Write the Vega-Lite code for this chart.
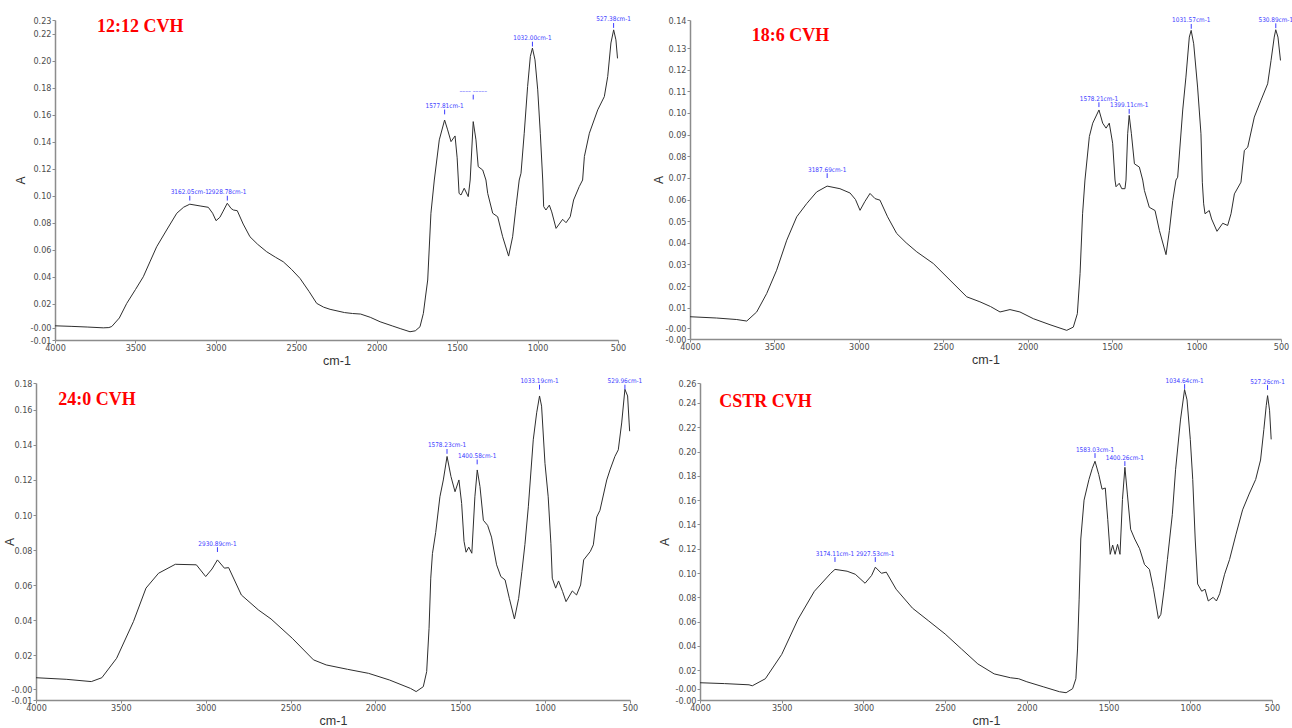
{
"$schema": "https://vega.github.io/schema/vega-lite/v6.json",
"background": "white",
"padding": 0,
"autosize": {"type": "none"},
"width": 1292,
"height": 728,
"config": {
 "view": {"stroke": null},
 "axis": {"grid": false, "domainColor": "#8c8c8c", "domainWidth": 1.5, "tickColor": "#8c8c8c", "tickSize": 3, "tickWidth": 1, "labelColor": "#4d4d4d", "labelFont": "Liberation Sans Narrow, DejaVu Sans Condensed, Liberation Sans, sans-serif", "labelFontSize": 9, "labelPadding": 1, "titleFont": "Liberation Sans, Arial, sans-serif", "titleFontWeight": "normal", "titleColor": "#333333", "titleFontSize": 12, "labelOverlap": false, "labelFlush": false, "titlePadding": 0},
 "axisX": {"labelPadding": 0, "titleFontSize": 12.5, "titlePadding": 2}
},
"resolve": {"scale": {"x": "independent", "y": "independent"}, "axis": {"x": "independent", "y": "independent"}},
"datasets": {
 "spec": [
{"p":"A","wn":4000,"a":0.0037},{"p":"A","wn":3900,"a":0.0033},{"p":"A","wn":3800,"a":0.0028},{"p":"A","wn":3700,"a":0.0022},{"p":"A","wn":3665,"a":0.0024},{"p":"A","wn":3647,"a":0.0032},{"p":"A","wn":3600,"a":0.0095},{"p":"A","wn":3554,"a":0.0203},{"p":"A","wn":3500,"a":0.0305},{"p":"A","wn":3451,"a":0.04},{"p":"A","wn":3410,"a":0.051},{"p":"A","wn":3368,"a":0.0622},{"p":"A","wn":3306,"a":0.0746},{"p":"A","wn":3243,"a":0.087},{"p":"A","wn":3200,"a":0.0915},{"p":"A","wn":3162,"a":0.0937},{"p":"A","wn":3098,"a":0.0924},{"p":"A","wn":3047,"a":0.0914},{"p":"A","wn":3020,"a":0.087},{"p":"A","wn":2999,"a":0.0815},{"p":"A","wn":2975,"a":0.084},{"p":"A","wn":2957,"a":0.088},{"p":"A","wn":2929,"a":0.0944},{"p":"A","wn":2905,"a":0.0905},{"p":"A","wn":2891,"a":0.0894},{"p":"A","wn":2867,"a":0.0889},{"p":"A","wn":2830,"a":0.079},{"p":"A","wn":2788,"a":0.0696},{"p":"A","wn":2740,"a":0.064},{"p":"A","wn":2684,"a":0.0585},{"p":"A","wn":2630,"a":0.0545},{"p":"A","wn":2581,"a":0.0511},{"p":"A","wn":2530,"a":0.0455},{"p":"A","wn":2477,"a":0.0388},{"p":"A","wn":2420,"a":0.029},{"p":"A","wn":2373,"a":0.0203},{"p":"A","wn":2330,"a":0.0175},{"p":"A","wn":2290,"a":0.0159},{"p":"A","wn":2200,"a":0.0135},{"p":"A","wn":2150,"a":0.0128},{"p":"A","wn":2100,"a":0.0124},{"p":"A","wn":2040,"a":0.01},{"p":"A","wn":1979,"a":0.0067},{"p":"A","wn":1900,"a":0.0035},{"p":"A","wn":1850,"a":0.0015},{"p":"A","wn":1793,"a":-0.0007},{"p":"A","wn":1760,"a":0.0},{"p":"A","wn":1731,"a":0.003},{"p":"A","wn":1710,"a":0.0129},{"p":"A","wn":1697,"a":0.025},{"p":"A","wn":1683,"a":0.0376},{"p":"A","wn":1663,"a":0.087},{"p":"A","wn":1642,"a":0.1116},{"p":"A","wn":1611,"a":0.1413},{"p":"A","wn":1578,"a":0.156},{"p":"A","wn":1559,"a":0.1487},{"p":"A","wn":1538,"a":0.14},{"p":"A","wn":1513,"a":0.1442},{"p":"A","wn":1500,"a":0.128},{"p":"A","wn":1488,"a":0.1017},{"p":"A","wn":1476,"a":0.1005},{"p":"A","wn":1456,"a":0.1055},{"p":"A","wn":1431,"a":0.0993},{"p":"A","wn":1419,"a":0.1116},{"p":"A","wn":1400,"a":0.1548},{"p":"A","wn":1383,"a":0.1413},{"p":"A","wn":1369,"a":0.1215},{"p":"A","wn":1341,"a":0.119},{"p":"A","wn":1321,"a":0.1116},{"p":"A","wn":1310,"a":0.1017},{"p":"A","wn":1279,"a":0.087},{"p":"A","wn":1248,"a":0.0844},{"p":"A","wn":1217,"a":0.0696},{"p":"A","wn":1180,"a":0.0553},{"p":"A","wn":1155,"a":0.0696},{"p":"A","wn":1134,"a":0.0919},{"p":"A","wn":1114,"a":0.1116},{"p":"A","wn":1103,"a":0.1166},{"p":"A","wn":1083,"a":0.1462},{"p":"A","wn":1062,"a":0.1807},{"p":"A","wn":1045,"a":0.203},{"p":"A","wn":1032,"a":0.2092},{"p":"A","wn":1016,"a":0.2005},{"p":"A","wn":999,"a":0.1783},{"p":"A","wn":983,"a":0.1462},{"p":"A","wn":968,"a":0.1116},{"p":"A","wn":962,"a":0.0919},{"p":"A","wn":948,"a":0.0894},{"p":"A","wn":927,"a":0.093},{"p":"A","wn":912,"a":0.088},{"p":"A","wn":885,"a":0.0758},{"p":"A","wn":844,"a":0.0825},{"p":"A","wn":823,"a":0.08},{"p":"A","wn":797,"a":0.0844},{"p":"A","wn":776,"a":0.0968},{"p":"A","wn":741,"a":0.1067},{"p":"A","wn":720,"a":0.1116},{"p":"A","wn":709,"a":0.129},{"p":"A","wn":678,"a":0.1462},{"p":"A","wn":626,"a":0.1635},{"p":"A","wn":585,"a":0.1733},{"p":"A","wn":564,"a":0.1881},{"p":"A","wn":544,"a":0.213},{"p":"A","wn":527,"a":0.2227},{"p":"A","wn":513,"a":0.2153},{"p":"A","wn":503,"a":0.2016},
{"p":"B","wn":4000,"a":0.0058},{"p":"B","wn":3842,"a":0.0052},{"p":"B","wn":3723,"a":0.0045},{"p":"B","wn":3664,"a":0.0038},{"p":"B","wn":3605,"a":0.008},{"p":"B","wn":3546,"a":0.0165},{"p":"B","wn":3487,"a":0.0273},{"p":"B","wn":3427,"a":0.0412},{"p":"B","wn":3368,"a":0.052},{"p":"B","wn":3309,"a":0.0581},{"p":"B","wn":3250,"a":0.0635},{"p":"B","wn":3188,"a":0.0662},{"p":"B","wn":3112,"a":0.065},{"p":"B","wn":3052,"a":0.063},{"p":"B","wn":3020,"a":0.06},{"p":"B","wn":2993,"a":0.055},{"p":"B","wn":2965,"a":0.059},{"p":"B","wn":2934,"a":0.0628},{"p":"B","wn":2904,"a":0.0604},{"p":"B","wn":2875,"a":0.0597},{"p":"B","wn":2830,"a":0.052},{"p":"B","wn":2776,"a":0.0443},{"p":"B","wn":2720,"a":0.04},{"p":"B","wn":2657,"a":0.0358},{"p":"B","wn":2559,"a":0.0304},{"p":"B","wn":2460,"a":0.0227},{"p":"B","wn":2361,"a":0.015},{"p":"B","wn":2283,"a":0.0127},{"p":"B","wn":2220,"a":0.0105},{"p":"B","wn":2164,"a":0.008},{"p":"B","wn":2105,"a":0.0091},{"p":"B","wn":2046,"a":0.008},{"p":"B","wn":1967,"a":0.0049},{"p":"B","wn":1868,"a":0.0021},{"p":"B","wn":1769,"a":-0.0005},{"p":"B","wn":1730,"a":0.001},{"p":"B","wn":1706,"a":0.0072},{"p":"B","wn":1690,"a":0.0257},{"p":"B","wn":1675,"a":0.0534},{"p":"B","wn":1661,"a":0.069},{"p":"B","wn":1635,"a":0.0891},{"p":"B","wn":1615,"a":0.0953},{"p":"B","wn":1578,"a":0.1014},{"p":"B","wn":1556,"a":0.0953},{"p":"B","wn":1536,"a":0.093},{"p":"B","wn":1517,"a":0.0953},{"p":"B","wn":1497,"a":0.086},{"p":"B","wn":1483,"a":0.069},{"p":"B","wn":1477,"a":0.0659},{"p":"B","wn":1458,"a":0.0675},{"p":"B","wn":1443,"a":0.065},{"p":"B","wn":1424,"a":0.065},{"p":"B","wn":1418,"a":0.069},{"p":"B","wn":1408,"a":0.0904},{"p":"B","wn":1399,"a":0.0989},{"p":"B","wn":1386,"a":0.0904},{"p":"B","wn":1368,"a":0.0765},{"p":"B","wn":1339,"a":0.075},{"p":"B","wn":1319,"a":0.069},{"p":"B","wn":1309,"a":0.0642},{"p":"B","wn":1280,"a":0.0564},{"p":"B","wn":1246,"a":0.0549},{"p":"B","wn":1220,"a":0.0456},{"p":"B","wn":1181,"a":0.0345},{"p":"B","wn":1161,"a":0.0456},{"p":"B","wn":1141,"a":0.0595},{"p":"B","wn":1122,"a":0.069},{"p":"B","wn":1112,"a":0.0703},{"p":"B","wn":1082,"a":0.1014},{"p":"B","wn":1063,"a":0.1166},{"p":"B","wn":1043,"a":0.1351},{"p":"B","wn":1032,"a":0.1382},{"p":"B","wn":1017,"a":0.132},{"p":"B","wn":994,"a":0.112},{"p":"B","wn":974,"a":0.0904},{"p":"B","wn":966,"a":0.068},{"p":"B","wn":958,"a":0.058},{"p":"B","wn":950,"a":0.0534},{"p":"B","wn":925,"a":0.0549},{"p":"B","wn":911,"a":0.051},{"p":"B","wn":879,"a":0.0453},{"p":"B","wn":845,"a":0.049},{"p":"B","wn":816,"a":0.048},{"p":"B","wn":796,"a":0.0534},{"p":"B","wn":776,"a":0.0626},{"p":"B","wn":737,"a":0.068},{"p":"B","wn":717,"a":0.0827},{"p":"B","wn":697,"a":0.0842},{"p":"B","wn":658,"a":0.0981},{"p":"B","wn":619,"a":0.1058},{"p":"B","wn":579,"a":0.1135},{"p":"B","wn":559,"a":0.1243},{"p":"B","wn":540,"a":0.1351},{"p":"B","wn":531,"a":0.1385},{"p":"B","wn":518,"a":0.1351},{"p":"B","wn":503,"a":0.1243},
{"p":"C","wn":4000,"a":0.0072},{"p":"C","wn":3822,"a":0.0063},{"p":"C","wn":3674,"a":0.005},{"p":"C","wn":3612,"a":0.0072},{"p":"C","wn":3525,"a":0.0183},{"p":"C","wn":3426,"a":0.0392},{"p":"C","wn":3352,"a":0.0583},{"p":"C","wn":3278,"a":0.0668},{"p":"C","wn":3179,"a":0.0719},{"p":"C","wn":3055,"a":0.0716},{"p":"C","wn":3000,"a":0.0649},{"p":"C","wn":2963,"a":0.0692},{"p":"C","wn":2931,"a":0.0744},{"p":"C","wn":2890,"a":0.0697},{"p":"C","wn":2865,"a":0.07},{"p":"C","wn":2790,"a":0.0544},{"p":"C","wn":2690,"a":0.0459},{"p":"C","wn":2615,"a":0.0407},{"p":"C","wn":2490,"a":0.0297},{"p":"C","wn":2365,"a":0.0174},{"p":"C","wn":2290,"a":0.0145},{"p":"C","wn":2164,"a":0.012},{"p":"C","wn":2040,"a":0.0097},{"p":"C","wn":1917,"a":0.0059},{"p":"C","wn":1793,"a":0.0011},{"p":"C","wn":1760,"a":-0.0007},{"p":"C","wn":1718,"a":0.0021},{"p":"C","wn":1698,"a":0.0107},{"p":"C","wn":1684,"a":0.0354},{"p":"C","wn":1674,"a":0.064},{"p":"C","wn":1664,"a":0.078},{"p":"C","wn":1645,"a":0.09},{"p":"C","wn":1620,"a":0.1104},{"p":"C","wn":1600,"a":0.12},{"p":"C","wn":1578,"a":0.1334},{"p":"C","wn":1555,"a":0.122},{"p":"C","wn":1531,"a":0.1133},{"p":"C","wn":1508,"a":0.12},{"p":"C","wn":1492,"a":0.1066},{"p":"C","wn":1478,"a":0.085},{"p":"C","wn":1466,"a":0.0788},{"p":"C","wn":1450,"a":0.0817},{"p":"C","wn":1432,"a":0.0782},{"p":"C","wn":1414,"a":0.1104},{"p":"C","wn":1400,"a":0.1257},{"p":"C","wn":1384,"a":0.1162},{"p":"C","wn":1364,"a":0.097},{"p":"C","wn":1339,"a":0.0941},{"p":"C","wn":1316,"a":0.0874},{"p":"C","wn":1286,"a":0.0716},{"p":"C","wn":1261,"a":0.0649},{"p":"C","wn":1236,"a":0.063},{"p":"C","wn":1211,"a":0.0525},{"p":"C","wn":1181,"a":0.0407},{"p":"C","wn":1156,"a":0.0525},{"p":"C","wn":1137,"a":0.0678},{"p":"C","wn":1119,"a":0.0833},{"p":"C","wn":1099,"a":0.1047},{"p":"C","wn":1070,"a":0.1429},{"p":"C","wn":1050,"a":0.1583},{"p":"C","wn":1033,"a":0.1679},{"p":"C","wn":1021,"a":0.1621},{"p":"C","wn":1001,"a":0.1295},{"p":"C","wn":982,"a":0.1104},{"p":"C","wn":966,"a":0.0836},{"p":"C","wn":958,"a":0.064},{"p":"C","wn":938,"a":0.0583},{"p":"C","wn":921,"a":0.0624},{"p":"C","wn":897,"a":0.0563},{"p":"C","wn":877,"a":0.0506},{"p":"C","wn":840,"a":0.0567},{"p":"C","wn":815,"a":0.0544},{"p":"C","wn":791,"a":0.0601},{"p":"C","wn":773,"a":0.0744},{"p":"C","wn":734,"a":0.0792},{"p":"C","wn":716,"a":0.083},{"p":"C","wn":696,"a":0.0989},{"p":"C","wn":677,"a":0.1027},{"p":"C","wn":637,"a":0.12},{"p":"C","wn":618,"a":0.1257},{"p":"C","wn":589,"a":0.1334},{"p":"C","wn":569,"a":0.1372},{"p":"C","wn":549,"a":0.1525},{"p":"C","wn":530,"a":0.1717},{"p":"C","wn":514,"a":0.1679},{"p":"C","wn":505,"a":0.1525},{"p":"C","wn":502,"a":0.1478},
{"p":"D","wn":4000,"a":0.0097},{"p":"D","wn":3850,"a":0.009},{"p":"D","wn":3700,"a":0.008},{"p":"D","wn":3680,"a":0.0072},{"p":"D","wn":3600,"a":0.013},{"p":"D","wn":3500,"a":0.033},{"p":"D","wn":3400,"a":0.062},{"p":"D","wn":3300,"a":0.085},{"p":"D","wn":3200,"a":0.0998},{"p":"D","wn":3174,"a":0.103},{"p":"D","wn":3100,"a":0.1015},{"p":"D","wn":3050,"a":0.099},{"p":"D","wn":2990,"a":0.0916},{"p":"D","wn":2950,"a":0.098},{"p":"D","wn":2927,"a":0.1048},{"p":"D","wn":2890,"a":0.0998},{"p":"D","wn":2860,"a":0.1007},{"p":"D","wn":2800,"a":0.0867},{"p":"D","wn":2700,"a":0.0711},{"p":"D","wn":2600,"a":0.0605},{"p":"D","wn":2500,"a":0.0498},{"p":"D","wn":2400,"a":0.0375},{"p":"D","wn":2300,"a":0.0252},{"p":"D","wn":2200,"a":0.017},{"p":"D","wn":2100,"a":0.0138},{"p":"D","wn":2050,"a":0.013},{"p":"D","wn":2000,"a":0.0105},{"p":"D","wn":1900,"a":0.0064},{"p":"D","wn":1800,"a":0.0023},{"p":"D","wn":1760,"a":0.0015},{"p":"D","wn":1720,"a":0.0048},{"p":"D","wn":1700,"a":0.013},{"p":"D","wn":1690,"a":0.0375},{"p":"D","wn":1680,"a":0.0785},{"p":"D","wn":1670,"a":0.128},{"p":"D","wn":1650,"a":0.16},{"p":"D","wn":1620,"a":0.177},{"p":"D","wn":1600,"a":0.186},{"p":"D","wn":1583,"a":0.192},{"p":"D","wn":1560,"a":0.181},{"p":"D","wn":1540,"a":0.169},{"p":"D","wn":1520,"a":0.17},{"p":"D","wn":1505,"a":0.144},{"p":"D","wn":1490,"a":0.1154},{"p":"D","wn":1475,"a":0.123},{"p":"D","wn":1460,"a":0.1154},{"p":"D","wn":1445,"a":0.1236},{"p":"D","wn":1430,"a":0.1154},{"p":"D","wn":1415,"a":0.1605},{"p":"D","wn":1400,"a":0.187},{"p":"D","wn":1385,"a":0.165},{"p":"D","wn":1365,"a":0.136},{"p":"D","wn":1340,"a":0.128},{"p":"D","wn":1310,"a":0.12},{"p":"D","wn":1280,"a":0.107},{"p":"D","wn":1250,"a":0.103},{"p":"D","wn":1225,"a":0.0867},{"p":"D","wn":1195,"a":0.0625},{"p":"D","wn":1180,"a":0.066},{"p":"D","wn":1160,"a":0.0867},{"p":"D","wn":1140,"a":0.111},{"p":"D","wn":1110,"a":0.148},{"p":"D","wn":1090,"a":0.185},{"p":"D","wn":1060,"a":0.226},{"p":"D","wn":1035,"a":0.251},{"p":"D","wn":1020,"a":0.2425},{"p":"D","wn":1000,"a":0.21},{"p":"D","wn":985,"a":0.177},{"p":"D","wn":970,"a":0.128},{"p":"D","wn":955,"a":0.091},{"p":"D","wn":930,"a":0.085},{"p":"D","wn":910,"a":0.0867},{"p":"D","wn":890,"a":0.077},{"p":"D","wn":860,"a":0.08},{"p":"D","wn":840,"a":0.077},{"p":"D","wn":820,"a":0.083},{"p":"D","wn":790,"a":0.099},{"p":"D","wn":760,"a":0.111},{"p":"D","wn":720,"a":0.132},{"p":"D","wn":680,"a":0.152},{"p":"D","wn":640,"a":0.165},{"p":"D","wn":600,"a":0.177},{"p":"D","wn":570,"a":0.193},{"p":"D","wn":550,"a":0.218},{"p":"D","wn":535,"a":0.238},{"p":"D","wn":527,"a":0.246},{"p":"D","wn":515,"a":0.234},{"p":"D","wn":505,"a":0.21}
 ],
 "peaks": [
{"p":"A","wn":3162.05,"a":0.0952,"label":"3162.05cm-1"},{"p":"A","wn":2928.78,"a":0.0952,"label":"2928.78cm-1"},{"p":"A","wn":1577.81,"a":0.159,"label":"1577.81cm-1"},{"p":"A","wn":1400,"a":0.17,"label":"–––– –––––"},{"p":"A","wn":1032.0,"a":0.2092,"label":"1032.00cm-1"},{"p":"A","wn":527.38,"a":0.223,"label":"527.38cm-1"},
{"p":"B","wn":3187.69,"a":0.0692,"label":"3187.69cm-1"},{"p":"B","wn":1578.21,"a":0.102,"label":"1578.21cm-1"},{"p":"B","wn":1399.11,"a":0.0989,"label":"1399.11cm-1"},{"p":"B","wn":1031.57,"a":0.1382,"label":"1031.57cm-1"},{"p":"B","wn":530.89,"a":0.1385,"label":"530.89cm-1"},
{"p":"C","wn":2930.89,"a":0.078,"label":"2930.89cm-1"},{"p":"C","wn":1578.23,"a":0.134,"label":"1578.23cm-1"},{"p":"C","wn":1400.58,"a":0.128,"label":"1400.58cm-1"},{"p":"C","wn":1033.19,"a":0.1707,"label":"1033.19cm-1"},{"p":"C","wn":529.96,"a":0.1707,"label":"529.96cm-1"},
{"p":"D","wn":3174.11,"a":0.1078,"label":"3174.11cm-1"},{"p":"D","wn":2927.53,"a":0.1078,"label":"2927.53cm-1"},{"p":"D","wn":1583.03,"a":0.1934,"label":"1583.03cm-1"},{"p":"D","wn":1400.26,"a":0.1868,"label":"1400.26cm-1"},{"p":"D","wn":1034.64,"a":0.2502,"label":"1034.64cm-1"},{"p":"D","wn":527.26,"a":0.2494,"label":"527.26cm-1"}
 ]
},
"layer": [
 {"layer": [
   {"data": {"name": "spec"}, "transform": [{"filter": "datum.p === 'A'"}], "mark": {"type": "line", "color": "#2e2e2e", "strokeWidth": 1},
    "encoding": {
     "x": {"field": "wn", "type": "quantitative", "title": "cm-1", "scale": {"domain": [4000, 500], "range": [55, 618], "nice": false, "zero": false}, "axis": {"orient": "bottom", "offset": -388, "values": [4000,3500,3000,2500,2000,1500,1000,500], "format": "d", "labelOverlap": false, "labelFlush": false}},
     "y": {"field": "a", "type": "quantitative", "title": "A", "scale": {"domain": [-0.0068, 0.23], "range": [340, 20], "nice": false, "zero": false}, "axis": {"orient": "left", "offset": -55, "values": [-0.0068,0.0023,0.02,0.04,0.06,0.08,0.1,0.12,0.14,0.16,0.18,0.2,0.22,0.23], "labelExpr": "abs(datum.value) < 0.005 ? '-0.00' : (datum.value < 0 ? '-0.01' : format(datum.value, '.2f'))", "labelOverlap": false, "labelFlush": false, "minExtent": 28, "maxExtent": 28}}}},
   {"data": {"name": "peaks"}, "transform": [{"filter": "datum.p === 'A'"}], "mark": {"type": "point", "shape": "M0,-3.2L0,-0.8", "size": 16, "filled": false, "stroke": "#3b3bff", "strokeWidth": 1, "opacity": 1},
    "encoding": {"x": {"field": "wn", "type": "quantitative", "title": "cm-1"}, "y": {"field": "a", "type": "quantitative", "title": "A"}}},
   {"data": {"name": "peaks"}, "transform": [{"filter": "datum.p === 'A'"}], "mark": {"type": "text", "baseline": "bottom", "dy": -7, "fontSize": 6.4, "font": "Liberation Sans Narrow, DejaVu Sans Condensed, Liberation Sans, sans-serif", "color": "#3b3bff"},
    "encoding": {"x": {"field": "wn", "type": "quantitative", "title": "cm-1"}, "y": {"field": "a", "type": "quantitative", "title": "A"}, "text": {"field": "label"}}},
   {"data": {"values": [{}]}, "mark": {"type": "text", "text": "12:12 CVH", "font": "Liberation Serif, Times New Roman, serif", "fontWeight": "bold", "fontSize": 18, "color": "#ff0000", "align": "left", "baseline": "alphabetic"},
    "encoding": {"x": {"datum": 3739, "type": "quantitative", "title": "cm-1"}, "y": {"datum": 0.2213, "type": "quantitative", "title": "A"}}}
 ]},
 {"layer": [
   {"data": {"name": "spec"}, "transform": [{"filter": "datum.p === 'B'"}], "mark": {"type": "line", "color": "#2e2e2e", "strokeWidth": 1},
    "encoding": {
     "x": {"field": "wn", "type": "quantitative", "title": "cm-1", "scale": {"domain": [4000, 500], "range": [690, 1281], "nice": false, "zero": false}, "axis": {"orient": "bottom", "offset": -389, "values": [4000,3500,3000,2500,2000,1500,1000,500], "format": "d", "labelOverlap": false, "labelFlush": false}},
     "y": {"field": "a", "type": "quantitative", "title": "A", "scale": {"domain": [-0.0045, 0.143], "range": [339, 20], "nice": false, "zero": false}, "axis": {"orient": "left", "offset": -690, "values": [-0.0045,0.0005,0.01,0.02,0.03,0.04,0.05,0.06,0.07,0.08,0.09,0.1,0.11,0.12,0.13,0.143], "labelExpr": "abs(datum.value) < 0.005 ? '-0.00' : (datum.value < 0 ? '-0.01' : format(datum.value, '.2f'))", "labelOverlap": false, "labelFlush": false, "minExtent": 25, "maxExtent": 25}}}},
   {"data": {"name": "peaks"}, "transform": [{"filter": "datum.p === 'B'"}], "mark": {"type": "point", "shape": "M0,-3.2L0,-0.8", "size": 16, "filled": false, "stroke": "#3b3bff", "strokeWidth": 1, "opacity": 1},
    "encoding": {"x": {"field": "wn", "type": "quantitative", "title": "cm-1"}, "y": {"field": "a", "type": "quantitative", "title": "A"}}},
   {"data": {"name": "peaks"}, "transform": [{"filter": "datum.p === 'B'"}], "mark": {"type": "text", "baseline": "bottom", "dy": -7, "fontSize": 6.4, "font": "Liberation Sans Narrow, DejaVu Sans Condensed, Liberation Sans, sans-serif", "color": "#3b3bff"},
    "encoding": {"x": {"field": "wn", "type": "quantitative", "title": "cm-1"}, "y": {"field": "a", "type": "quantitative", "title": "A"}, "text": {"field": "label"}}},
   {"data": {"values": [{}]}, "mark": {"type": "text", "text": "18:6 CVH", "font": "Liberation Serif, Times New Roman, serif", "fontWeight": "bold", "fontSize": 18, "color": "#ff0000", "align": "left", "baseline": "alphabetic"},
    "encoding": {"x": {"datum": 3635, "type": "quantitative", "title": "cm-1"}, "y": {"datum": 0.1334, "type": "quantitative", "title": "A"}}}
 ]},
 {"layer": [
   {"data": {"name": "spec"}, "transform": [{"filter": "datum.p === 'C'"}], "mark": {"type": "line", "color": "#2e2e2e", "strokeWidth": 1},
    "encoding": {
     "x": {"field": "wn", "type": "quantitative", "title": "cm-1", "scale": {"domain": [4000, 500], "range": [36, 630], "nice": false, "zero": false}, "axis": {"orient": "bottom", "offset": -28, "values": [4000,3500,3000,2500,2000,1500,1000,500], "format": "d", "labelOverlap": false, "labelFlush": false}},
     "y": {"field": "a", "type": "quantitative", "title": "A", "scale": {"domain": [-0.0055, 0.1753], "range": [700, 383], "nice": false, "zero": false}, "axis": {"orient": "left", "offset": -36, "values": [-0.0055,0.0005,0.02,0.04,0.06,0.08,0.1,0.12,0.14,0.16,0.1753], "labelExpr": "abs(datum.value) < 0.005 ? '-0.00' : (datum.value < 0 ? '-0.01' : format(datum.value, '.2f'))", "labelOverlap": false, "labelFlush": false, "minExtent": 20, "maxExtent": 20}}}},
   {"data": {"name": "peaks"}, "transform": [{"filter": "datum.p === 'C'"}], "mark": {"type": "point", "shape": "M0,-3.2L0,-0.8", "size": 16, "filled": false, "stroke": "#3b3bff", "strokeWidth": 1, "opacity": 1},
    "encoding": {"x": {"field": "wn", "type": "quantitative", "title": "cm-1"}, "y": {"field": "a", "type": "quantitative", "title": "A"}}},
   {"data": {"name": "peaks"}, "transform": [{"filter": "datum.p === 'C'"}], "mark": {"type": "text", "baseline": "bottom", "dy": -7, "fontSize": 6.4, "font": "Liberation Sans Narrow, DejaVu Sans Condensed, Liberation Sans, sans-serif", "color": "#3b3bff"},
    "encoding": {"x": {"field": "wn", "type": "quantitative", "title": "cm-1"}, "y": {"field": "a", "type": "quantitative", "title": "A"}, "text": {"field": "label"}}},
   {"data": {"values": [{}]}, "mark": {"type": "text", "text": "24:0 CVH", "font": "Liberation Serif, Times New Roman, serif", "fontWeight": "bold", "fontSize": 18, "color": "#ff0000", "align": "left", "baseline": "alphabetic"},
    "encoding": {"x": {"datum": 3869, "type": "quantitative", "title": "cm-1"}, "y": {"datum": 0.1628, "type": "quantitative", "title": "A"}}}
 ]},
 {"layer": [
   {"data": {"name": "spec"}, "transform": [{"filter": "datum.p === 'D'"}], "mark": {"type": "line", "color": "#2e2e2e", "strokeWidth": 1},
    "encoding": {
     "x": {"field": "wn", "type": "quantitative", "title": "cm-1", "scale": {"domain": [4000, 500], "range": [700, 1272], "nice": false, "zero": false}, "axis": {"orient": "bottom", "offset": -28, "values": [4000,3500,3000,2500,2000,1500,1000,500], "format": "d", "labelOverlap": false, "labelFlush": false}},
     "y": {"field": "a", "type": "quantitative", "title": "A", "scale": {"domain": [-0.0045, 0.2564], "range": [700, 383], "nice": false, "zero": false}, "axis": {"orient": "left", "offset": -700, "values": [-0.0045,0.0046,0.02,0.04,0.06,0.08,0.1,0.12,0.14,0.16,0.18,0.2,0.22,0.24,0.2564], "labelExpr": "abs(datum.value) < 0.005 ? '-0.00' : (datum.value < 0 ? '-0.01' : format(datum.value, '.2f'))", "labelOverlap": false, "labelFlush": false, "minExtent": 29, "maxExtent": 29}}}},
   {"data": {"name": "peaks"}, "transform": [{"filter": "datum.p === 'D'"}], "mark": {"type": "point", "shape": "M0,-3.2L0,-0.8", "size": 16, "filled": false, "stroke": "#3b3bff", "strokeWidth": 1, "opacity": 1},
    "encoding": {"x": {"field": "wn", "type": "quantitative", "title": "cm-1"}, "y": {"field": "a", "type": "quantitative", "title": "A"}}},
   {"data": {"name": "peaks"}, "transform": [{"filter": "datum.p === 'D'"}], "mark": {"type": "text", "baseline": "bottom", "dy": -7, "fontSize": 6.4, "font": "Liberation Sans Narrow, DejaVu Sans Condensed, Liberation Sans, sans-serif", "color": "#3b3bff"},
    "encoding": {"x": {"field": "wn", "type": "quantitative", "title": "cm-1"}, "y": {"field": "a", "type": "quantitative", "title": "A"}, "text": {"field": "label"}}},
   {"data": {"values": [{}]}, "mark": {"type": "text", "text": "CSTR CVH", "font": "Liberation Serif, Times New Roman, serif", "fontWeight": "bold", "fontSize": 18, "color": "#ff0000", "align": "left", "baseline": "alphabetic"},
    "encoding": {"x": {"datum": 3882, "type": "quantitative", "title": "cm-1"}, "y": {"datum": 0.2369, "type": "quantitative", "title": "A"}}}
 ]}
]
}
